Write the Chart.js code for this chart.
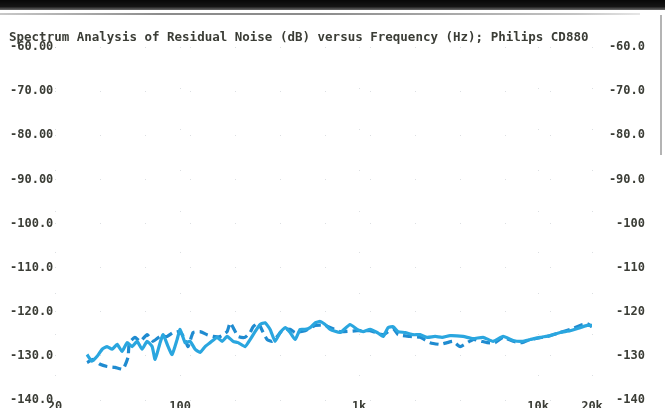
<!DOCTYPE html>
<html>
<head>
<meta charset="utf-8">
<script src="https://cdn.jsdelivr.net/npm/chart.js@4/dist/chart.umd.min.js"></script>
<style>
  html, body { margin: 0; padding: 0; background: #fff; overflow: hidden; }
  #wrap { position: relative; width: 665px; height: 408px; }
  #wrap canvas { position: absolute; left: 0; top: 0; }
  .edge-top { position: absolute; left: 0; top: 0; width: 665px; height: 10px;
              background: linear-gradient(#080808 0, #151515 65%, #6a6a6a 100%); }
  .rule-top { position: absolute; left: 0; top: 13px; width: 640px; height: 2px;
              background: linear-gradient(90deg, #c8c8c8 0, #8c8c8c 25%, #8c8c8c 50%, #c4c4c4 90%, #e6e6e6 100%); }
  .edge-right { position: absolute; left: 660px; top: 15px; width: 2px; height: 140px; background: #b4b4b4; }
</style>
</head>
<body>
<div id="wrap">
  <canvas id="chart" width="665" height="408"></canvas>
  <div class="edge-top"></div>
  <div class="rule-top"></div>
  <div class="edge-right"></div>
</div>
<script>
const TITLE = 'Spectrum Analysis of Residual Noise (dB) versus Frequency (Hz); Philips CD880';

// Frequency axis ticks (Hz) and their labels
const freqTicks = [20, 100, 1000, 10000, 20000];
const freqTickLabels = ['20', '100', '1k', '10k', '20k'];

// Level axis ticks (dB) and labels for the left and right sides
const levelTicks = [-140, -130, -120, -110, -100, -90, -80, -70, -60];
const leftLevelLabels = ['-140.0', '-130.0', '-120.0', '-110.0', '-100.0', '-90.00', '-80.00', '-70.00', '-60.00'];
const rightLevelLabels = ['-140', '-130', '-120', '-110', '-100', '-90.0', '-80.0', '-70.0', '-60.0'];

// Residual noise, solid trace
const solidFreq = [30.2, 32.2, 34.4, 36.7, 39.1, 41.7, 44.5, 47.4, 50.6, 53.9, 57.5, 61.3, 65.4, 69.8,
  72.5, 77.3, 80.4, 85.7, 90.2, 96.2, 100, 106.6, 113.7, 121.3, 129.3, 137.9, 147.1, 160.9, 171.6,
  183.0, 197.8, 210.9, 230.7, 246.1, 262.4, 279.9, 298.5, 318.3, 339.5, 362.1, 386.1, 411.8, 439.1,
  468.3, 499.4, 532.5, 567.9, 605.6, 645.8, 688.7, 783.2, 890.6, 974.5, 1053, 1152, 1261, 1362, 1452,
  1549, 1651, 1807, 2003, 2192, 2398, 2658, 2909, 3224, 3811, 4335, 4928, 5605, 6376, 7251, 8141,
  9023, 10260, 11670, 13270, 15090, 17160, 18780, 20000];
const solidLevel = [-129.7, -131.2, -130.1, -128.5, -127.9, -128.5, -127.4, -129.0, -127.0, -127.9,
  -126.7, -128.5, -126.7, -127.9, -130.8, -127.0, -125.2, -127.9, -129.7, -126.3, -124.0, -127.0,
  -126.7, -128.5, -129.2, -127.9, -127.0, -125.8, -126.7, -125.6, -126.7, -127.0, -127.9, -126.3,
  -124.5, -122.9, -122.5, -124.0, -126.7, -124.7, -123.6, -124.7, -126.3, -124.0, -124.0, -123.6,
  -122.5, -122.2, -122.9, -124.0, -124.7, -122.9, -124.0, -124.5, -124.0, -124.7, -125.6, -123.6,
  -123.4, -124.5, -124.7, -125.2, -125.2, -125.8, -125.6, -125.8, -125.4, -125.6, -126.1, -125.8,
  -126.7, -125.6, -126.5, -126.7, -126.3, -125.8, -125.4, -124.7, -124.3, -123.6, -123.1, -123.1];

// Residual noise, dashed trace
const dashFreq = [30.2, 32.6, 35.7, 39.1, 43.3, 48.0, 51.2, 52.0, 56.0, 59.8, 65.4, 70.6, 77.3, 84.6,
  91.4, 100, 106.6, 110.8, 118.2, 129.3, 141.5, 152.9, 167.2, 183.0, 190.2, 197.8, 210.9, 230.7,
  246.1, 255.8, 272.8, 291.0, 306.6, 326.8, 348.5, 376.5, 411.8, 439.1, 499.4, 567.9, 645.8, 783.2,
  974.5, 1152, 1362, 1549, 1651, 1927, 2192, 2493, 2835, 3101, 3351, 3666, 4335, 5189, 5752, 6376,
  7251, 8141, 9023, 11230, 13270, 15690, 17160, 18780, 20000];
const dashLevel = [-131.5, -130.8, -131.9, -132.4, -132.6, -133.0, -130.3, -127.0, -125.8, -126.7,
  -125.2, -126.7, -125.6, -125.6, -124.7, -124.5, -126.3, -127.9, -124.7, -124.5, -125.2, -125.6,
  -125.6, -124.5, -122.5, -123.6, -125.6, -125.8, -124.7, -123.4, -122.5, -124.7, -126.3, -126.7,
  -125.6, -124.0, -124.0, -124.7, -124.3, -123.1, -123.1, -124.5, -124.3, -124.3, -125.2, -123.8,
  -125.2, -125.6, -125.8, -127.0, -127.4, -127.0, -126.7, -127.9, -126.3, -127.0, -127.0, -125.8,
  -126.7, -127.0, -126.3, -125.6, -124.7, -123.8, -123.1, -122.7, -123.4];

const toPoints = (xs, ys) => xs.map((x, i) => ({ x: x, y: ys[i] }));

const TEXT_COLOR = '#3b3d36';
const MONO = "'DejaVu Sans Mono', 'Liberation Mono', monospace";
const GRID_COLOR = 'rgba(130,140,150,0.28)';

// Title line drawn above the plot, flush with the left labels
const titlePlugin = {
  id: 'plotTitle',
  afterDraw(chart) {
    const ctx = chart.ctx;
    ctx.save();
    ctx.font = 'bold 12.5px ' + MONO;
    ctx.fillStyle = TEXT_COLOR;
    ctx.textAlign = 'left';
    ctx.textBaseline = 'alphabetic';
    ctx.fillText(TITLE, 9, 41);
    ctx.restore();
  }
};

new Chart(document.getElementById('chart'), {
  type: 'line',
  data: {
    datasets: [
      {
        label: 'solid',
        data: toPoints(solidFreq, solidLevel),
        borderColor: '#2aa6df',
        borderWidth: 3.2,
        pointRadius: 0,
        tension: 0.15,
        fill: false
      },
      {
        label: 'dashed',
        data: toPoints(dashFreq, dashLevel),
        borderColor: '#1f8bd0',
        borderWidth: 3.2,
        borderDash: [9, 5],
        pointRadius: 0,
        tension: 0.15,
        fill: false
      }
    ]
  },
  options: {
    responsive: false,
    animation: false,
    layout: { padding: { top: 47, left: 10, right: 20, bottom: 0 } },
    plugins: {
      legend: { display: false },
      tooltip: { enabled: false },
      title: { display: false }
    },
    scales: {
      x: {
        type: 'logarithmic',
        min: 20,
        max: 20000,
        afterBuildTicks: (scale) => { scale.ticks = freqTicks.map(v => ({ value: v })); },
        afterFit: (scale) => { scale.height = 8; },
        ticks: {
          autoSkip: false,
          maxRotation: 0,
          padding: 0,
          color: TEXT_COLOR,
          font: { family: MONO, size: 12, weight: 'bold' },
          callback: (value, index) => freqTickLabels[index]
        },
        grid: { color: GRID_COLOR, drawTicks: false, lineWidth: 1 },
        border: { display: false, dash: [1, 40] }
      },
      y: {
        position: 'left',
        min: -140,
        max: -60,
        afterBuildTicks: (scale) => { scale.ticks = levelTicks.map(v => ({ value: v })); },
        afterFit: (scale) => { scale.width = 45; },
        ticks: {
          crossAlign: 'far',
          padding: 0,
          color: TEXT_COLOR,
          font: { family: MONO, size: 12, weight: 'bold' },
          callback: (value, index) => leftLevelLabels[index]
        },
        grid: { color: GRID_COLOR, drawTicks: false, lineWidth: 1 },
        border: { display: false, dash: [1, 44] }
      },
      yRight: {
        position: 'right',
        min: -140,
        max: -60,
        afterBuildTicks: (scale) => { scale.ticks = levelTicks.map(v => ({ value: v })); },
        afterFit: (scale) => { scale.width = 53; },
        ticks: {
          crossAlign: 'far',
          padding: 0,
          color: TEXT_COLOR,
          font: { family: MONO, size: 12, weight: 'bold' },
          callback: (value, index) => rightLevelLabels[index]
        },
        grid: { display: false },
        border: { display: false }
      }
    }
  },
  plugins: [titlePlugin]
});
</script>
</body>
</html>
